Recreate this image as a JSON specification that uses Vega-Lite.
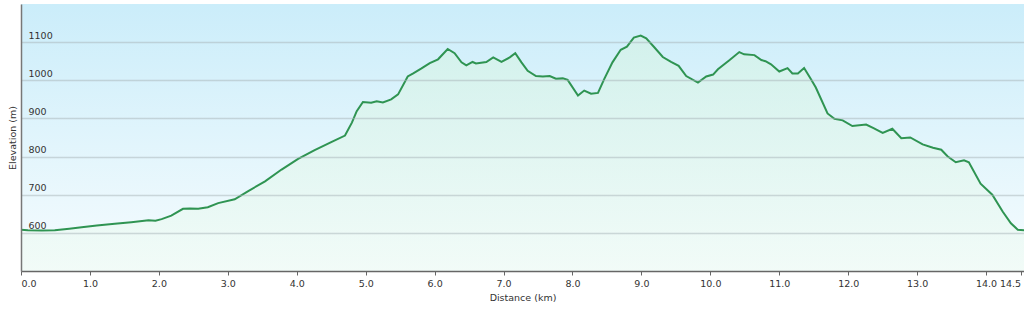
{
  "$schema": "https://vega.github.io/schema/vega-lite/v6.json",
  "width": 1003,
  "height": 267,
  "autosize": "none",
  "padding": {"left": 21, "top": 4, "right": 0, "bottom": 43},
  "background": "white",
  "config": {"view": {"stroke": "#d6d6d6", "strokeWidth": 1}, "font": "DejaVu Sans"},
  "data": {"values": [
    {"d": 0.0, "e": 608}, {"d": 0.1, "e": 607}, {"d": 0.3, "e": 606}, {"d": 0.49, "e": 607},
    {"d": 0.7, "e": 611}, {"d": 0.88, "e": 615}, {"d": 1.1, "e": 619}, {"d": 1.36, "e": 624},
    {"d": 1.6, "e": 628}, {"d": 1.85, "e": 633}, {"d": 1.95, "e": 632}, {"d": 2.04, "e": 636},
    {"d": 2.18, "e": 645}, {"d": 2.35, "e": 663}, {"d": 2.45, "e": 664}, {"d": 2.57, "e": 663},
    {"d": 2.71, "e": 667}, {"d": 2.86, "e": 678}, {"d": 3.1, "e": 688}, {"d": 3.29, "e": 709},
    {"d": 3.54, "e": 735}, {"d": 3.78, "e": 766}, {"d": 4.02, "e": 794}, {"d": 4.26, "e": 817},
    {"d": 4.5, "e": 838}, {"d": 4.7, "e": 855}, {"d": 4.8, "e": 889}, {"d": 4.87, "e": 919},
    {"d": 4.96, "e": 943}, {"d": 5.08, "e": 941}, {"d": 5.16, "e": 945}, {"d": 5.25, "e": 942},
    {"d": 5.37, "e": 950}, {"d": 5.47, "e": 963}, {"d": 5.61, "e": 1010}, {"d": 5.69, "e": 1018},
    {"d": 5.81, "e": 1031}, {"d": 5.93, "e": 1045}, {"d": 6.05, "e": 1055}, {"d": 6.19, "e": 1082},
    {"d": 6.29, "e": 1071}, {"d": 6.39, "e": 1047}, {"d": 6.46, "e": 1039}, {"d": 6.55, "e": 1048},
    {"d": 6.6, "e": 1044}, {"d": 6.75, "e": 1048}, {"d": 6.85, "e": 1060}, {"d": 6.97, "e": 1048},
    {"d": 7.09, "e": 1060}, {"d": 7.17, "e": 1071}, {"d": 7.26, "e": 1047}, {"d": 7.35, "e": 1025},
    {"d": 7.47, "e": 1011}, {"d": 7.57, "e": 1010}, {"d": 7.67, "e": 1011}, {"d": 7.76, "e": 1004},
    {"d": 7.86, "e": 1005}, {"d": 7.93, "e": 1001}, {"d": 8.08, "e": 960}, {"d": 8.17, "e": 973},
    {"d": 8.27, "e": 965}, {"d": 8.37, "e": 967}, {"d": 8.46, "e": 1003}, {"d": 8.58, "e": 1047},
    {"d": 8.7, "e": 1080}, {"d": 8.79, "e": 1088}, {"d": 8.89, "e": 1112}, {"d": 8.99, "e": 1117},
    {"d": 9.07, "e": 1110}, {"d": 9.19, "e": 1086}, {"d": 9.31, "e": 1061}, {"d": 9.43, "e": 1048},
    {"d": 9.54, "e": 1038}, {"d": 9.65, "e": 1011}, {"d": 9.82, "e": 994}, {"d": 9.94, "e": 1010},
    {"d": 10.04, "e": 1015}, {"d": 10.11, "e": 1029}, {"d": 10.28, "e": 1053}, {"d": 10.42, "e": 1074},
    {"d": 10.49, "e": 1068}, {"d": 10.64, "e": 1066}, {"d": 10.74, "e": 1053}, {"d": 10.8, "e": 1050},
    {"d": 10.88, "e": 1042}, {"d": 11.0, "e": 1023}, {"d": 11.12, "e": 1032}, {"d": 11.19, "e": 1018},
    {"d": 11.27, "e": 1018}, {"d": 11.36, "e": 1032}, {"d": 11.46, "e": 1003}, {"d": 11.53, "e": 981},
    {"d": 11.7, "e": 913}, {"d": 11.8, "e": 899}, {"d": 11.92, "e": 895}, {"d": 12.06, "e": 880},
    {"d": 12.26, "e": 884}, {"d": 12.36, "e": 875}, {"d": 12.5, "e": 862}, {"d": 12.64, "e": 873},
    {"d": 12.77, "e": 848}, {"d": 12.9, "e": 850}, {"d": 13.08, "e": 832}, {"d": 13.23, "e": 823},
    {"d": 13.35, "e": 818}, {"d": 13.44, "e": 801}, {"d": 13.56, "e": 785}, {"d": 13.68, "e": 790},
    {"d": 13.75, "e": 785}, {"d": 13.92, "e": 729}, {"d": 14.09, "e": 700}, {"d": 14.24, "e": 656},
    {"d": 14.36, "e": 625}, {"d": 14.46, "e": 608}, {"d": 14.55, "e": 607}
  ]},
  "encoding": {
    "x": {
      "field": "d", "type": "quantitative",
      "scale": {"domain": [0, 14.55], "nice": false, "zero": false},
      "axis": {
        "title": "Distance (km)",
        "values": [0, 1, 2, 3, 4, 5, 6, 7, 8, 9, 10, 11, 12, 13, 14, 14.5],
        "format": ".1f",
        "labelFlush": 6,
        "labelOverlap": false,
        "grid": false,
        "zindex": 1,
        "tickSize": 4,
        "tickColor": "#666666",
        "domainColor": "#666666",
        "domainWidth": 1.5,
        "labelPadding": 3,
        "labelFontSize": 9.5,
        "labelColor": "#333333",
        "titleFontSize": 9.5,
        "titleFontWeight": "normal",
        "titleColor": "#333333",
        "titlePadding": 5
      }
    },
    "y": {
      "field": "e", "type": "quantitative",
      "scale": {"domain": [500, 1200], "nice": false},
      "axis": {
        "title": "Elevation (m)",
        "values": [600, 700, 800, 900, 1000, 1100],
        "format": "d",
        "grid": true,
        "zindex": 1,
        "gridColor": "#a8b4b8",
        "gridWidth": 1.5,
        "gridOpacity": 0.5,
        "ticks": false,
        "tickSize": 0,
        "labelAlign": "left",
        "labelBaseline": "alphabetic",
        "labelPadding": -7,
        "labelOffset": -4,
        "labelFontSize": 9.5,
        "labelColor": "#333333",
        "domainColor": "#777777",
        "domainWidth": 1.5,
        "titleFontSize": 9.5,
        "titleFontWeight": "normal",
        "titleColor": "#333333",
        "titlePadding": 4
      }
    }
  },
  "layer": [
    {
      "mark": {
        "type": "area",
        "fill": {"gradient": "linear", "x1": 0, "y1": 0, "x2": 0, "y2": 1,
          "stops": [{"offset": 0, "color": "#cbedfa"}, {"offset": 1, "color": "#f6fcfe"}]}
      },
      "encoding": {
        "y": {"datum": 1200, "type": "quantitative"},
        "y2": {"datum": 500}
      }
    },
    {
      "mark": {
        "type": "area",
        "fill": {"gradient": "linear", "x1": 0, "y1": 0, "x2": 0, "y2": 1,
          "stops": [{"offset": 0, "color": "#d3f2e6"}, {"offset": 1, "color": "#f0fbf5"}]},
        "line": {"color": "#2f9452", "strokeWidth": 2}
      },
      "encoding": {
        "y2": {"datum": 500}
      }
    }
  ]
}
